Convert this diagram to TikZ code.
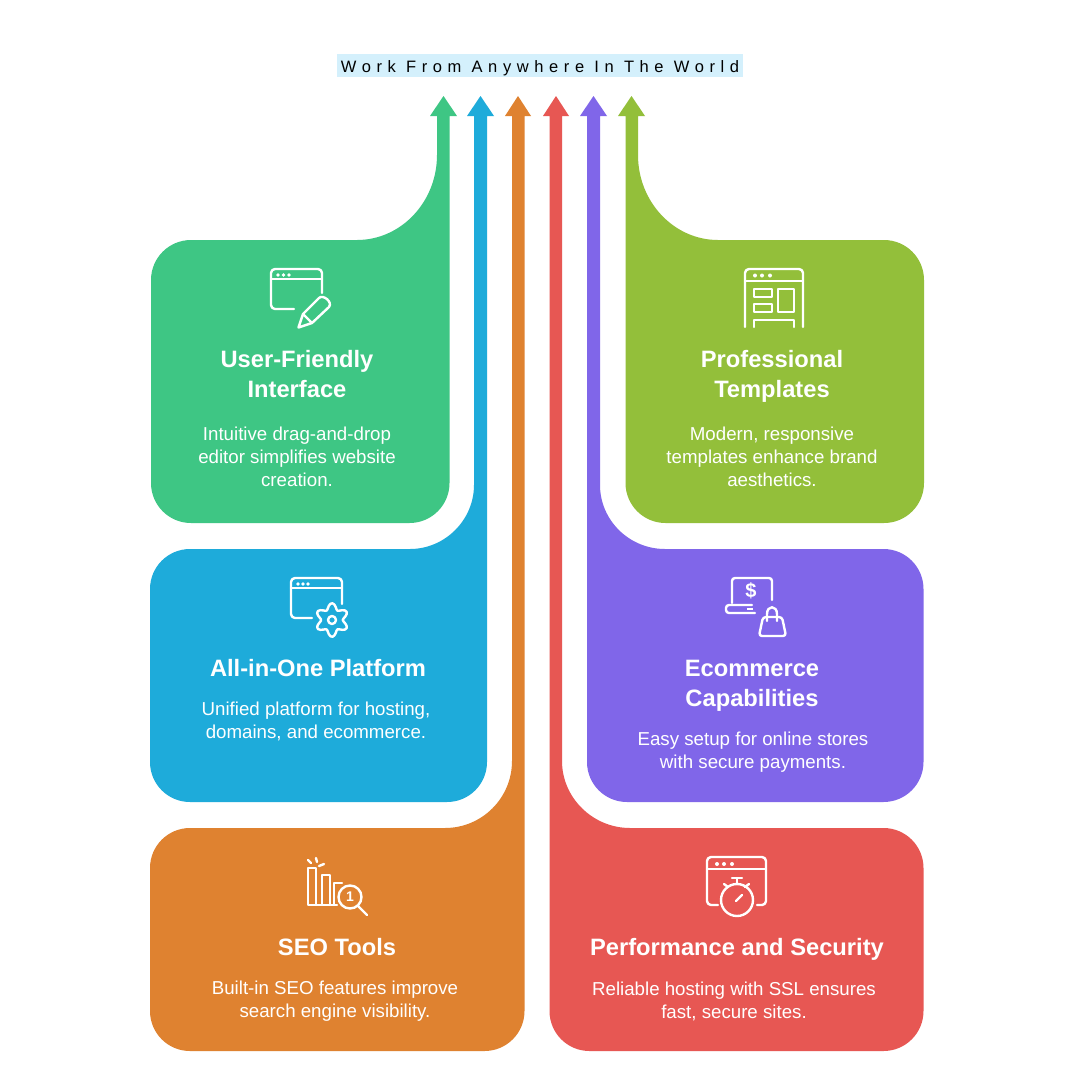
\documentclass[tikz,border=0pt]{standalone}
\usepackage{fontspec}
\setmainfont{Liberation Sans}
\newfontfamily\trackedfont[LetterSpace=34]{Liberation Sans}
\usepackage{tikz}
\definecolor{greencard}{HTML}{3EC684}
\definecolor{bluecard}{HTML}{1EABDA}
\definecolor{orangecard}{HTML}{DF8230}
\definecolor{redcard}{HTML}{E75753}
\definecolor{purplecard}{HTML}{8066E9}
\definecolor{limecard}{HTML}{93BF3A}
\definecolor{banner}{HTML}{D4F0FC}
\tikzstyle{heading} = [text=white, align=center, inner sep=0pt, font=\fontsize{23.7}{30}\selectfont\bfseries]
\tikzstyle{blurb}   = [text=white, align=center, inner sep=0pt, font=\fontsize{18.7}{23}\selectfont]
\tikzstyle{icon}    = [draw=white, line width=2.4pt, line cap=round, line join=round]
\tikzstyle{dot}     = [fill=white]

\begin{document}
\begin{tikzpicture}[x=1pt, y=-1pt]

\path [use as bounding box, fill=white] (0,0) rectangle (1080,1080);

% banner
\node [fill=banner, minimum width=406pt, minimum height=23pt, inner sep=0pt, text height=15pt, text depth=1.4pt, font=\fontsize{16.5}{18}\selectfont\trackedfont] at (540,65.5) (banner) {Work From Anywhere In The World};

% cards with their arrows
\fill [greencard] (357,240) [rounded corners=40pt] -- (151,240) -- (151,523) -- (449.5,523) [sharp corners] -- (449.5,116) -- (457,116) -- (443.5,96) -- (430,116) -- (437,116) -- (437,155) .. controls (437,202) and (401,240) .. (357,240) -- cycle;
\fill [bluecard] (410,549) [rounded corners=40pt] -- (150,549) -- (150,802) -- (487,802) [sharp corners] -- (487,116) -- (494,116) -- (480.5,96) -- (467,116) -- (474,116) -- (474,485) .. controls (474,520) and (445,549) .. (410,549) -- cycle;
\fill [orangecard] (445,828) [rounded corners=40pt] -- (150,828) -- (150,1051) -- (524.5,1051) [sharp corners] -- (524.5,116) -- (531,116) -- (518,96) -- (505,116) -- (512,116) -- (512,761) .. controls (512,798) and (482,828) .. (445,828) -- cycle;
\fill [redcard] (630,828) [rounded corners=40pt] -- (923.5,828) -- (923.5,1051) -- (549.5,1051) [sharp corners] -- (549.5,116) -- (543,116) -- (556,96) -- (569,116) -- (562,116) -- (562,761) .. controls (562,798) and (593,828) .. (630,828) -- cycle;
\fill [purplecard] (665,549) [rounded corners=40pt] -- (923.5,549) -- (923.5,802) -- (587,802) [sharp corners] -- (587,116) -- (580,116) -- (593.5,96) -- (607,116) -- (600,116) -- (600,485) .. controls (600,520) and (629,549) .. (665,549) -- cycle;
\fill [limecard] (718,240) [rounded corners=40pt] -- (924,240) -- (924,523) -- (625.5,523) [sharp corners] -- (625.5,116) -- (618,116) -- (631.5,96) -- (645,116) -- (638,116) -- (638,155) .. controls (638,202) and (674,240) .. (718,240) -- cycle;

% texts
\node [heading] at (297,374)   (friendly)    {User-Friendly\\Interface};
\node [blurb]   at (297,457)   (friendlytxt) {Intuitive drag-and-drop\\editor simplifies website\\creation.};
\node [heading] at (772,376)   (templates)    {Professional\\Templates};
\node [blurb]   at (772,457)   (templatestxt) {Modern, responsive\\templates enhance brand\\aesthetics.};
\node [heading] at (318,668)   (platform)    {All-in-One Platform};
\node [blurb]   at (316,721)   (platformtxt) {Unified platform for hosting,\\domains, and ecommerce.};
\node [heading] at (752,686)   (shop)    {Ecommerce\\Capabilities};
\node [blurb]   at (753,752)   (shoptxt) {Easy setup for online stores\\with secure payments.};
\node [heading] at (337,947)   (seo)    {SEO Tools};
\node [blurb]   at (335,1001)  (seotxt) {Built-in SEO features improve\\search engine visibility.};
\node [heading] at (737,949)   (speed)    {Performance and Security};
\node [blurb]   at (734,1001)  (speedtxt) {Reliable hosting with SSL ensures\\fast, secure sites.};

% icon: window and pencil
\draw [icon, rounded corners=4pt] (322,293) -- (322,269) -- (271,269) -- (271,309) -- (294,309);
\draw [icon] (271,279) -- (322,279);
\foreach \x in {278,283.5,289} \fill [dot] (\x,275) circle (1.9);
\draw [icon] (298.5,327.5) -- (303,314) -- (319,298) .. controls (323,294) and (333,302) .. (329,307) -- (312,323) -- cycle (303,314) -- (312,323);

% icon: page layout
\draw [icon, rounded corners=4pt] (745,327) -- (745,269) -- (803,269) -- (803,327);
\draw [icon] (745,281) -- (803,281);
\foreach \x in {755,762,770} \fill [dot] (\x,275.5) circle (2);
\draw [icon] (754,289) rectangle (772,297) (754,304) rectangle (772,312) (778,289) rectangle (794,312);
\draw [icon] (754,327) -- (754,320) -- (794,320) -- (794,327);

% icon: window and gear
\draw [icon, rounded corners=4pt] (342,604) -- (342,578) -- (291,578) -- (291,618) -- (312,618);
\draw [icon] (291,588) -- (342,588);
\foreach \x in {298,303,308} \fill [dot] (\x,584) circle (1.9);
\draw [icon] plot [smooth cycle, samples=49, domain=0:352.5] ({332+(13.8-3*cos(6*\x))*cos(\x)}, {620+(13.8-3*cos(6*\x))*sin(\x)});
\draw [icon] (332,620) circle (4);

% icon: laptop and bag
\draw [icon, rounded corners=3pt] (732,603) -- (732,578) -- (772,578) -- (772,600);
\draw [icon, rounded corners=3pt] (752,605) -- (726,605) -- (726,613) -- (755,613);
\fill [dot] (747,608) rectangle (753,610);
\node [text=white, inner sep=0pt, font=\fontsize{20}{20}\selectfont\bfseries] at (751,591) (dollar) {\$};
\draw [icon, rounded corners=3pt] (763,617) -- (782,617) -- (786,636) -- (759,636) -- cycle;
\draw [icon] (767,621) -- (767,614) .. controls (767,605) and (777,605) .. (777,614) -- (777,621);

% icon: ranking bars
\draw [icon] (337,905) -- (308,905) -- (308,868) -- (316,868) -- (316,905);
\draw [icon] (322,905) -- (322,875) -- (330,875) -- (330,905);
\draw [icon] (334,905) -- (334,883) -- (342,883);
\draw [icon] (350,897) circle (11.5);
\draw [icon] (358,906) -- (367,915);
\draw [icon] (308,860) -- (311,863) (316,858) -- (317,862) (319,866) -- (324,864);
\node [text=white, inner sep=0pt, font=\fontsize{14}{14}\selectfont\bfseries] at (350,897) (rank) {1};

% icon: window and stopwatch
\draw [icon, rounded corners=4pt] (718,905) -- (707,905) -- (707,857) -- (766,857) -- (766,905) -- (757,905);
\draw [icon] (707,869) -- (766,869);
\foreach \x in {717,724,732} \fill [dot] (\x,864) circle (2);
\draw [icon] (737,900) circle (16);
\draw [icon] (732,878) -- (742,878) (737,878) -- (737,884);
\draw [icon] (724,884) -- (728,887) (749,884) -- (745,887);
\draw [icon] (736,901) -- (742,895);

\end{tikzpicture}
\end{document}
